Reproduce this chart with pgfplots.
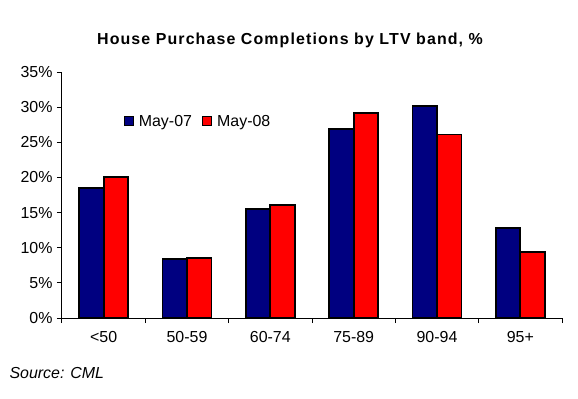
\documentclass[border=0pt]{standalone}
\usepackage{pgfplots}
\pgfplotsset{compat=1.18}
\usepackage{fontspec}
\setmainfont{Liberation Sans}
\newfontfamily\titlefont[LetterSpace=7]{Liberation Sans}
\definecolor{navyb}{RGB}{0,0,128}
\definecolor{redb}{RGB}{255,0,0}
\begin{document}
\begin{tikzpicture}[x=1bp,y=1bp]
\begin{axis}[
  scale only axis, width=500bp, height=246bp,
  xmin=-0.5, xmax=5.5, ymin=0, ymax=35,
  axis x line*=bottom, axis y line*=left,
  axis line style={line width=1bp,-},
  ytick={0,5,...,35},
  yticklabel={\pgfmathprintnumber{\tick}\%},
  /pgf/number format/assume math mode=true,
  xtick={0,1,2,3,4,5},
  xticklabels={{<50},{50-59},{60-74},{75-89},{90-94},{95+}},
  minor xtick={-0.5,0.5,...,5.5},
  tick align=outside,
  major tick length=5bp, minor tick length=5bp,
  x tick style={draw=none},
  minor x tick style={draw=black,line width=1bp},
  y tick style={draw=black,line width=1bp},
  tick label style={font=\fontsize{16}{18}\selectfont},
  yticklabel style={xshift=-1bp},
  xticklabel style={yshift=-5bp},
  ybar=0pt, bar width=24.5bp,
  legend style={draw=none, fill=none, at={(0.272,0.80)}, anchor=center,
    legend columns=2, font=\fontsize{16}{18}\selectfont,
    /tikz/every odd column/.append style={column sep=3bp},
    /tikz/every even column/.append style={column sep=8bp}},
  legend image code/.code={\draw[#1,line width=1.2bp] (0bp,-4.5bp) rectangle (9bp,4.5bp);},
]
\addplot[fill=navyb, draw=black, line width=1.8bp] coordinates {(0,18.45) (1,8.44) (2,15.55) (3,26.9) (4,30.2) (5,12.85)};
\addplot[fill=redb, draw=black, line width=1.8bp] coordinates {(0,20.06) (1,8.58) (2,16.12) (3,29.2) (4,26.1) (5,9.39)};
\legend{May-07,May-08}
\end{axis}
\node at (228,278) {\fontsize{16}{18}\titlefont\bfseries House Purchase Completions by LTV band, \%};
\node[anchor=west] at (-56,-55) {\fontsize{16}{18}\selectfont\itshape Source: CML};
\path[use as bounding box] (-62,-80) rectangle (516,318);
\end{tikzpicture}
\end{document}
